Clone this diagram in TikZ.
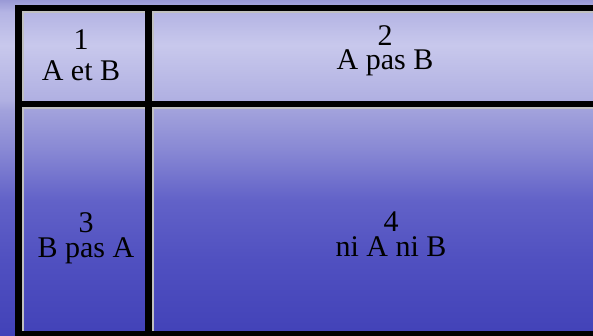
\documentclass[tikz,border=0pt]{standalone}
\usepackage{fontspec}
\setmainfont{Liberation Serif}
\usepackage{tikz}
\usetikzlibrary{positioning,calc}

\definecolor{sea0}{HTML}{9A9AD6}
\definecolor{sea1}{HTML}{B4B4E4}
\definecolor{sea2}{HTML}{C8C8EC}
\definecolor{sea3}{HTML}{B0B0E2}
\definecolor{sea4}{HTML}{A2A2DC}
\definecolor{sea5}{HTML}{8888D4}
\definecolor{sea6}{HTML}{6262C8}
\definecolor{sea7}{HTML}{5050C0}
\definecolor{sea8}{HTML}{4242B8}
\definecolor{edgegray}{HTML}{C0C0C0}

%% the path is mapped onto the middle 50bp of the shading
\pgfdeclareverticalshading{seabg}{100bp}{%
  color(0bp)=(sea8); color(25bp)=(sea8); color(36.31bp)=(sea7);
  color(45.24bp)=(sea6); color(52.68bp)=(sea5); color(58.63bp)=(sea4);
  color(60.12bp)=(sea3); color(68.3bp)=(sea2); color(73.21bp)=(sea1);
  color(75bp)=(sea0); color(100bp)=(sea0)}

\tikzset{
  gridline/.style={line width=6.5pt, black},
  insetline/.style={line width=2pt, edgegray},
  celltxt/.style={anchor=base, inner sep=0pt, align=center,
                  font=\fontsize{30}{24}\selectfont}
}

\begin{document}
\begin{tikzpicture}[x=1pt,y=1pt]
\useasboundingbox (0,0) rectangle (593,336);
\clip (0,0) rectangle (593,336);
%% Background
\shade[shading=seabg] (0,0) rectangle (593,336);
%% Inset edges of the cells
\draw[insetline] (23,101) -- (23,324) -- (145,324);
\draw[insetline] (153,101) -- (153,324) -- (620,324);
\draw[insetline] (23,5) -- (23,228) -- (145,228);
\draw[insetline] (153,5) -- (153,228) -- (620,228);
%% Table grid
\draw[gridline] (18.5,0) -- (18.5,331.25);
\draw[gridline] (148.5,0) -- (148.5,331.25);
\draw[gridline] (15.25,328) -- (620,328);
\draw[gridline] (15.25,232) -- (620,232);
\draw[gridline] (15.25,2) -- (620,2);
%% Cell texts (anchored on the baseline of the last line)
\foreach \n/\x/\y/\s/\t in {1/81/255/7pt/A et B,
                            2/385/266/0pt/A pas B,
                            3/86/78/1pt/B pas A,
                            4/391/79/1pt/ni A ni B}{
  \node[celltxt] (cell\n) at (\x,\y) {\n\\[\s]\t};
}
\end{tikzpicture}
\end{document}
